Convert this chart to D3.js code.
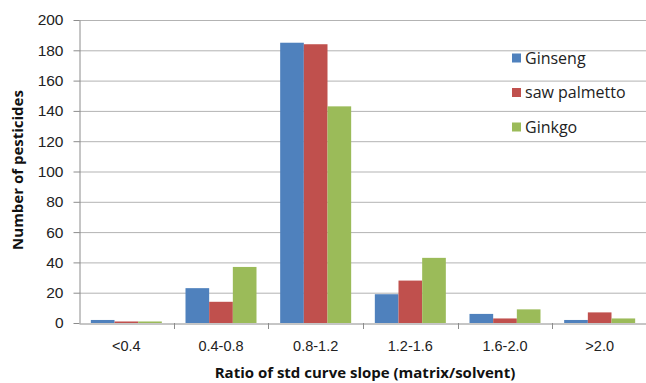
<!DOCTYPE html>
<html>
<head>
<meta charset="utf-8">
<script src="https://cdn.jsdelivr.net/npm/d3@7"></script>
<style>
  html, body { margin: 0; padding: 0; background: #fff; }
  svg { display: block; font-family: "Open Sans", "Liberation Sans", sans-serif; }
</style>
</head>
<body>
<svg id="chart" width="646" height="383"></svg>
<script>
// Slope-ratio bins and pesticide counts for each botanical matrix
const categories = ["<0.4", "0.4-0.8", "0.8-1.2", "1.2-1.6", "1.6-2.0", ">2.0"];
const seriesNames = ["Ginseng", "saw palmetto", "Ginkgo"];
const ginseng     = [2, 23, 185, 19, 6, 2];
const sawPalmetto = [1, 14, 184, 28, 3, 7];
const ginkgo      = [1, 37, 143, 43, 9, 3];
const yTicks = [0, 20, 40, 60, 80, 100, 120, 140, 160, 180, 200];
const colors = ["#4f81bd", "#c0504d", "#9bbb59"];

const seriesValues = [ginseng, sawPalmetto, ginkgo];

const svg = d3.select("#chart");
const margin = { left: 79, right: -1, top: 20 };
const W = 646;
const plotRight = W - margin.right;
const plotBottom = 323;

const x = d3.scaleBand().domain(categories).range([margin.left, plotRight]).paddingInner(0).paddingOuter(0);
const xs = d3.scaleBand().domain(seriesNames).range([0, x.bandwidth()]).paddingInner(0).paddingOuter(0.5);
const y = d3.scaleLinear().domain([0, 200]).range([plotBottom, margin.top]);

// horizontal gridlines
svg.append("g")
  .selectAll("line")
  .data(yTicks.filter(d => d > 0))
  .join("line")
  .attr("x1", margin.left).attr("x2", plotRight)
  .attr("y1", d => y(d) + 0.5).attr("y2", d => y(d) + 0.5)
  .attr("stroke", "#b3b3b3").attr("stroke-width", 1);

// bars
const groups = svg.append("g")
  .selectAll("g")
  .data(categories)
  .join("g")
  .attr("transform", d => `translate(${x(d)},0)`);

groups.selectAll("rect")
  .data((c, i) => seriesNames.map((s, k) => ({ s, k, v: seriesValues[k][i] })))
  .join("rect")
  .attr("x", d => xs(d.s))
  .attr("width", xs.bandwidth())
  .attr("y", d => y(d.v))
  .attr("height", d => y(0) - y(d.v))
  .attr("fill", d => colors[d.k]);

// y axis
const yAxis = svg.append("g")
  .attr("transform", `translate(${margin.left + 0.5},0)`)
  .call(d3.axisLeft(y).tickValues(yTicks).tickSize(6).tickPadding(10).tickSizeOuter(0));
yAxis.select(".domain").attr("stroke", "#8c8c8c");
yAxis.selectAll(".tick line").attr("stroke", "#8c8c8c");
yAxis.selectAll(".tick text").attr("font-size", 15.5).attr("fill", "#222");

// x axis
const xAxis = svg.append("g")
  .attr("transform", `translate(0,${plotBottom + 0.5})`)
  .call(d3.axisBottom(x).tickSize(0).tickPadding(17));
xAxis.select(".domain").attr("stroke", "#8c8c8c");
xAxis.selectAll(".tick text").attr("font-size", 14.5).attr("fill", "#222");
// tick marks between categories
svg.append("g")
  .selectAll("line")
  .data(categories.slice(1))
  .join("line")
  .attr("x1", d => Math.round(x(d)) + 0.5).attr("x2", d => Math.round(x(d)) + 0.5)
  .attr("y1", plotBottom).attr("y2", plotBottom + 6)
  .attr("stroke", "#8c8c8c");

// axis titles
svg.append("text")
  .attr("x", 365)
  .attr("y", 378)
  .attr("text-anchor", "middle")
  .attr("font-size", 15)
  .attr("font-weight", "bold")
  .attr("fill", "#111")
  .text("Ratio of std curve slope (matrix/solvent)");

svg.append("text")
  .attr("transform", "translate(23,170) rotate(-90)")
  .attr("text-anchor", "middle")
  .attr("font-size", 15)
  .attr("font-weight", "bold")
  .attr("fill", "#111")
  .text("Number of pesticides");

// legend
const legend = svg.append("g").attr("transform", "translate(512,58)");
const items = legend.selectAll("g")
  .data(seriesNames)
  .join("g")
  .attr("transform", (d, i) => `translate(0,${i * 34.5})`);
items.append("rect")
  .attr("x", 0).attr("y", -4.5).attr("width", 9).attr("height", 9)
  .attr("fill", (d, i) => colors[i]);
items.append("text")
  .attr("x", 13).attr("y", 0).attr("dy", "0.35em")
  .attr("font-size", 16).attr("fill", "#222")
  .text(d => d);
</script>
</body>
</html>
